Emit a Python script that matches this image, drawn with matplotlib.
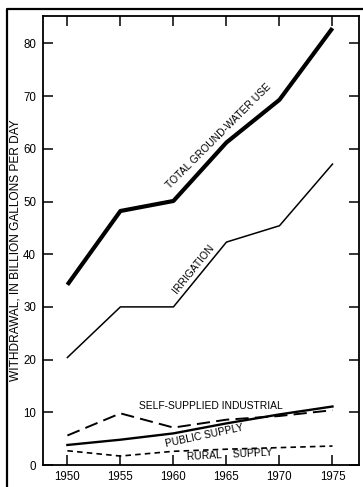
import numpy as np
import matplotlib
matplotlib.use('Agg')
import matplotlib.pyplot as plt
from matplotlib.lines import Line2D

plt.rcParams['font.family'] = ['Liberation Sans', 'DejaVu Sans']
plt.rcParams['lines.scale_dashes'] = False

# withdrawal of ground water, billion gallons per day
years = [1950, 1955, 1960, 1965, 1970, 1975]
total_use = [34.2, 48.2, 50.1, 61.2, 69.3, 82.9]
irrigation = [20.4, 30.0, 30.0, 42.3, 45.4, 57.1]
industrial = [5.6, 9.8, 7.1, 8.6, 9.3, 10.4]
public_supply = [3.8, 4.8, 6.0, 7.9, 9.6, 11.1]
rural_supply = [2.7, 1.7, 2.6, 3.0, 3.3, 3.6]

W, H = 363, 487
fig = plt.figure(figsize=(W / 100, H / 100), dpi=100)
ax = fig.add_axes([43 / W, 1 - 465 / H, (359 - 43) / W, (465 - 16) / H])

# outer frame of the figure (left and top edges)
fig.add_artist(Line2D([7 / W, 7 / W, 1.0], [0.0, 1 - 9 / H, 1 - 9 / H],
                      transform=fig.transFigure, color='black', lw=1.6))

ax.plot(years, total_use, color='black', lw=3.0, solid_capstyle='butt')
ax.plot(years, irrigation, color='black', lw=1.1)
ax.plot(years, industrial, color='black', lw=1.4, dashes=(9.5, 4.5))
ax.plot(years, public_supply, color='black', lw=1.7)
ax.plot(years, rural_supply, color='black', lw=1.2, dashes=(4, 3))

txt = dict(fontsize=7.4, color='black', ha='center', va='center')
ax.text(1964.3, 62.4, 'TOTAL GROUND-WATER USE', rotation=45, **txt)
ax.text(1961.9, 37.2, 'IRRIGATION', rotation=51, **txt)
ax.text(1963.5, 11.2, 'SELF-SUPPLIED INDUSTRIAL', rotation=0, **txt)
ax.text(1962.9, 5.5, 'PUBLIC SUPPLY', rotation=12, **txt)
ax.text(1965.3, 1.9, 'RURAL    SUPPLY', rotation=3, **txt)

ax.set_xlim(1947.7, 1977.5)
ax.set_ylim(0, 85.2)
ax.set_xticks(years)
ax.set_yticks(np.arange(0, 81, 10))
ax.tick_params(direction='in', length=7, width=1.1, top=True, right=True,
               labelsize=8.3, pad=5)
ax.tick_params(axis='x', pad=4)
for s in ax.spines.values():
    s.set_linewidth(1.3)

ax.set_ylabel('WITHDRAWAL, IN BILLION GALLONS PER DAY', fontsize=8.6)
ax.yaxis.set_label_coords(-21 / (359 - 43), 0.478)

fig.savefig('out.png', dpi=100)
